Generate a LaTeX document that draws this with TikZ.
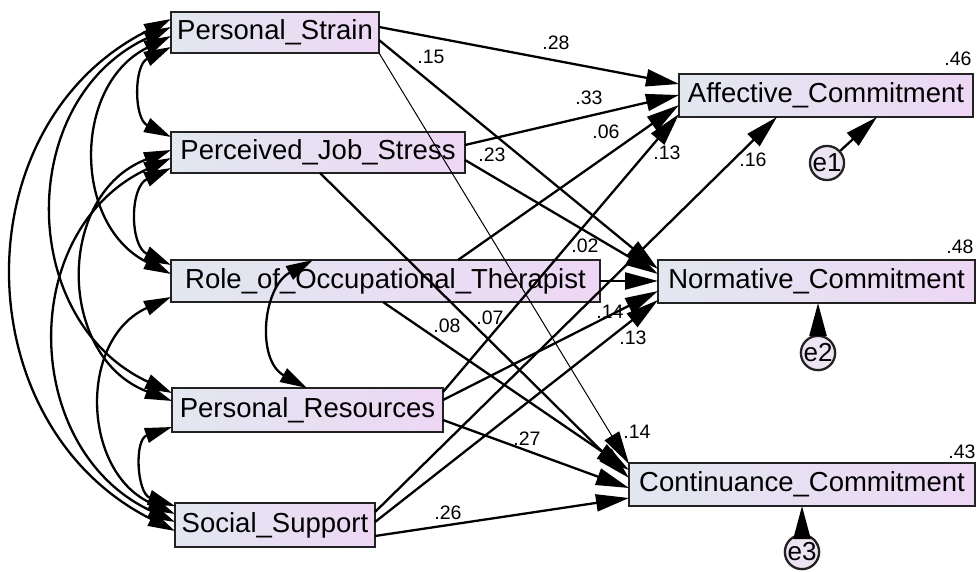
\documentclass[tikz,border=0pt]{standalone}
\usepackage{fontspec}
\setmainfont{Liberation Sans}
\usetikzlibrary{arrows.meta,calc}
\definecolor{boxL}{RGB}{226,231,240}
\definecolor{boxR}{RGB}{237,215,244}
\definecolor{edge}{RGB}{34,34,34}
\definecolor{errfill}{RGB}{236,228,243}
\begin{document}
\begin{tikzpicture}[x=1pt,y=-1pt,
  var/.style={draw=edge, line width=2.3pt, left color=boxL, right color=boxR,
    inner sep=0pt, outer sep=0pt, font=\fontsize{27.5}{30}\selectfont},
  err/.style={circle, draw=edge, line width=2.3pt, fill=errfill, inner sep=0pt,
    minimum size=30pt, font=\fontsize{26}{27}\selectfont},
  lab/.style={inner sep=0pt, font=\fontsize{19.5}{21}\selectfont},
  tip/.tip={Triangle[length=33pt,width=17pt]},
  ctip/.tip={Triangle[length=27pt,width=15pt]},
  reg/.style={line width=2.3pt, -tip},
  thinreg/.style={line width=1pt, -tip},
  cov/.style={line width=2.3pt, ctip-ctip}]
\useasboundingbox (0,0) rectangle (977,572);

% exogenous variables
\node[var, minimum width=208pt, minimum height=41pt] (PS)  at (275,32.5)  {Personal\_Strain};
\node[var, minimum width=294pt, minimum height=41pt] (PJS) at (318,152.5) {Perceived\_Job\_Stress};
\node[var, minimum width=429pt, minimum height=42pt] (ROT) at (385.5,281) {Role\_of\_Occupational\_Therapist};
\node[var, minimum width=271pt, minimum height=44pt] (PR)  at (307.5,410) {Personal\_Resources};
\node[var, minimum width=200pt, minimum height=44pt] (SS)  at (275,525)   {Social\_Support};

% endogenous variables
\node[var, minimum width=294pt, minimum height=43pt] (AC) at (826,95.5)   {Affective\_Commitment};
\node[var, minimum width=317pt, minimum height=43pt] (NC) at (816.5,281.5) {Normative\_Commitment};
\node[var, minimum width=346pt, minimum height=43pt] (CC) at (802,484.5)  {Continuance\_Commitment};

% residuals
\node[err] (e1) at (827,163) {e1};
\node[err] (e2) at (818,353) {e2};
\node[err] (e3) at (802,552) {e3};

% covariances among the predictors
\draw[cov] ($(PS.north west)+(0,35)$) .. controls (133.7,65.4) and (133.7,118.6) .. ($(PJS.north west)+(0,5)$);
\draw[cov] ($(PJS.north west)+(0,36)$) .. controls (129.6,187.1) and (129.6,245.9) .. ($(ROT.north west)+(0,5)$);
\draw[cov] ($(PR.north west)+(0,39)$) .. controls (133.9,439.6) and (136.9,493.4) .. ($(SS.north west)+(0,3)$);
\draw[cov] ($(ROT.north west)+(142,0)$) .. controls (262.3,287.6) and (256.3,360.4) .. ($(PR.north west)+(135,0)$);
\draw[cov] ($(PS.north west)+(0,24)$) .. controls (72.3,84.7) and (72.3,225.3) .. ($(ROT.north west)+(0,14)$);
\draw[cov] ($(PS.north west)+(0,15)$) .. controls (15.5,99.6) and (16.5,320.4) .. ($(PR.north west)+(0,5)$);
\draw[cov] ($(PS.north west)+(0,7)$) .. controls (-39.8,124.7) and (-35.8,425.3) .. ($(SS.north west)+(0,28)$);
\draw[cov] ($(PJS.north west)+(0,18)$) .. controls (55.5,194) and (56.5,357) .. ($(PR.north west)+(0,13)$);
\draw[cov] ($(PJS.north west)+(0,26)$) .. controls (16.5,230) and (20.5,450) .. ($(SS.north west)+(0,19)$);
\draw[cov] ($(ROT.north west)+(0,37)$) .. controls (77.8,339.2) and (81.8,471.8) .. ($(SS.north west)+(0,11)$);

% regression paths
\draw[reg] ($(PS.north east)+(0,15)$) -- ($(AC.north west)+(0,10)$);
\draw[reg] ($(PS.north east)+(0,28)$) -- ($(NC.north west)+(0,9)$);
\draw[thinreg] (PS.south east) -- ($(CC.north west)+(0,1)$);
\draw[reg] ($(PJS.north east)+(0,13)$) -- ($(AC.north west)+(0,21)$);
\draw[reg] ($(PJS.north east)+(0,28)$) -- ($(NC.north west)+(0,14)$);
\draw[reg] ($(PJS.south west)+(149,0)$) -- ($(CC.north west)+(0,15)$);
\draw[reg] ($(ROT.north west)+(287,0)$) -- ($(AC.north west)+(0,31)$);
\draw[reg] (ROT.east) -- ($(NC.north west)+(0,21)$);
\draw[reg] ($(ROT.south west)+(212,0)$) -- ($(CC.north west)+(0,7)$);
\draw[reg] ($(PR.north east)+(0,4)$) -- ($(AC.south west)+(0,-3)$);
\draw[reg] ($(PR.north east)+(0,12)$) -- ($(NC.south west)+(0,-12)$);
\draw[reg] ($(PR.south east)+(0,-12)$) -- ($(CC.north west)+(0,25)$);
\draw[reg] ($(SS.north east)+(0,9)$) -- ($(AC.south west)+(98,0)$);
\draw[reg] ($(SS.north east)+(0,19)$) -- ($(NC.south west)+(0,-3)$);
\draw[reg] ($(SS.south east)+(0,-11)$) -- ($(CC.north west)+(0,35)$);

% residual paths
\draw[reg] (e1) -- ($(AC.south west)+(198,0)$);
\draw[reg] (e2) -- ($(NC.south west)+(160,0)$);
\draw[reg] (e3) -- ($(CC.south west)+(173,0)$);

% standardized estimates
\node[lab] (w1)  at (556,43)  {.28};
\node[lab] (w2)  at (431,57)  {.15};
\node[lab] (w3)  at (589,98)  {.33};
\node[lab] (w4)  at (606,132) {.06};
\node[lab] (w5)  at (667,153) {.13};
\node[lab] (w6)  at (492,155) {.23};
\node[lab] (w7)  at (753,160) {.16};
\node[lab] (w8)  at (585,246) {.02};
\node[lab] (w9)  at (447,326) {.08};
\node[lab] (w10) at (490,318) {.07};
\node[lab] (w11) at (610,312) {.14};
\node[lab] (w12) at (633,338) {.13};
\node[lab] (w13) at (527,439) {.27};
\node[lab] (w14) at (637,432) {.14};
\node[lab] (w15) at (448,513) {.26};

% squared multiple correlations
\node[lab] (r1) at (958,59)  {.46};
\node[lab] (r2) at (960,247) {.48};
\node[lab] (r3) at (962,452) {.43};
\end{tikzpicture}
\end{document}
